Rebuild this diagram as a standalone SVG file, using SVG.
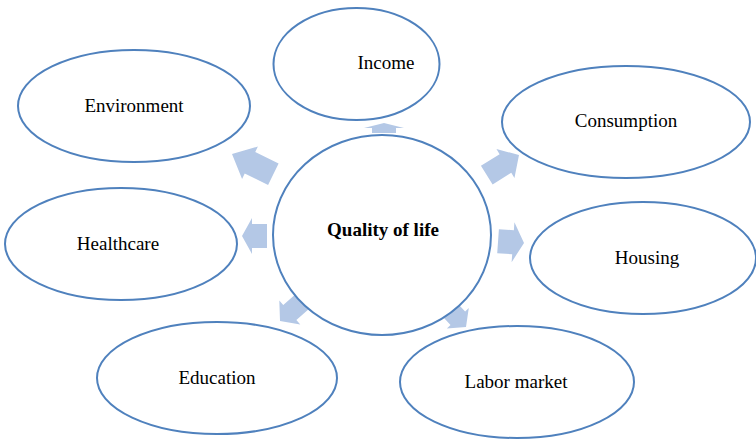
<svg xmlns="http://www.w3.org/2000/svg" width="756" height="440" viewBox="0 0 756 440">
<style>
.node ellipse{fill:#fff;stroke:#4f81bd;stroke-width:2}
.lbl{font-family:"Liberation Serif","Times New Roman",serif;font-size:19px;fill:#000;text-anchor:middle}
.b{font-weight:bold}
.arr{fill:#b4c8e6}
</style>
<rect width="756" height="440" fill="#fff"/>
<g id="connectors">
<path class="arr" d="M384,123 L404,128 L396,128 L396,133 L372,133 L372,128 L364,128 Z"/>
<path class="arr" d="M0,0 L-20,-18 L-20,-12 L-46,-12 L-46,12 L-20,12 L-20,18 Z" transform="translate(232,154) rotate(206)"/>
<path class="arr" d="M0,0 L-16,-17 L-16,-11 L-38,-11 L-38,11 L-16,11 L-16,17 Z" transform="translate(519,155) rotate(-32)"/>
<path class="arr" d="M0,0 L-10,-18 L-10,-12 L-25,-12 L-25,12 L-10,12 L-10,18 Z" transform="translate(242,236) rotate(180)"/>
<path class="arr" d="M0,0 L-11,-20 L-11,-12 L-26,-12 L-26,12 L-11,12 L-11,20 Z" transform="translate(524,243) rotate(4)"/>
<path class="arr" d="M0,0 L-13,-16 L-13,-10 L-30,-10 L-30,10 L-13,10 L-13,16 Z" transform="translate(280,321) rotate(139)"/>
<path class="arr" d="M0,0 L-12,-15 L-12,-10 L-28,-10 L-28,10 L-12,10 L-12,15 Z" transform="translate(466,327) rotate(47)"/>
</g>
<g id="income" class="node"><ellipse cx="356.5" cy="64" rx="83" ry="56"/><text class="lbl" x="386" y="69">Income</text></g>
<g id="environment" class="node"><ellipse cx="134" cy="106" rx="116" ry="56"/><text class="lbl" x="134" y="112">Environment</text></g>
<g id="consumption" class="node"><ellipse cx="626" cy="122" rx="124" ry="56"/><text class="lbl" x="626" y="127">Consumption</text></g>
<g id="quality" class="node"><ellipse cx="382" cy="235" rx="109" ry="100"/><text class="lbl b" x="383" y="236">Quality of life</text></g>
<g id="healthcare" class="node"><ellipse cx="121" cy="244" rx="116" ry="56"/><text class="lbl" x="118" y="250">Healthcare</text></g>
<g id="housing" class="node"><ellipse cx="643" cy="258" rx="113" ry="56"/><text class="lbl" x="647" y="264">Housing</text></g>
<g id="education" class="node"><ellipse cx="217" cy="378" rx="120" ry="56"/><text class="lbl" x="217" y="384">Education</text></g>
<g id="labor" class="node"><ellipse cx="517" cy="382" rx="117" ry="56"/><text class="lbl" x="516" y="388">Labor market</text></g>
</svg>
